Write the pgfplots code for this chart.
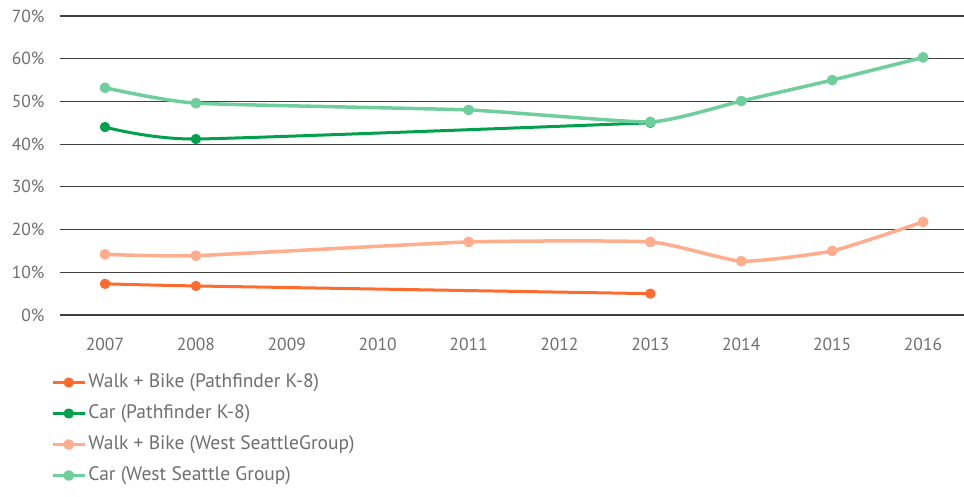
\documentclass[border=0pt]{standalone}
\usepackage{pgfplots}
\pgfplotsset{compat=1.18}
\usepackage{fontspec}
\setmainfont{PT Sans}
\definecolor{wbp}{HTML}{FF6A2E}
\definecolor{carp}{HTML}{00A04C}
\definecolor{wbw}{HTML}{FFAD8C}
\definecolor{carw}{HTML}{6FCF9C}
\definecolor{txt}{HTML}{6E6E6E}
\begin{document}
\begin{tikzpicture}
\path[use as bounding box] (-60pt,-182pt) rectangle (904pt,315pt);
\begin{axis}[
  at={(0pt,0pt)}, anchor=south west,
  scale only axis, width=904pt, height=299pt,
  xmin=2006.505, xmax=2016.45, ymin=0, ymax=70,
  xtick={2007,...,2016},
  ytick={0,10,...,70},
  yticklabel={\pgfmathprintnumber{\tick}\%},
  /pgf/number format/assume math mode=true,
  /pgf/number format/1000 sep={},
  axis line style={draw=none},
  major tick length=0pt,
  ymajorgrids,
  grid style={black!75, line width=1.1pt},
  tick label style={font=\fontsize{17.5}{20}\selectfont, text=txt},
  xticklabel style={yshift=-20pt},
  yticklabel style={xshift=-12pt},
  clip=false,
  legend cell align=left,
  legend style={draw=none, fill=none, at={(axis description cs:-0.0135,-0.19)}, anchor=north west,
    font=\fontsize{19.5}{22}\selectfont, text=txt, row sep=14pt,
    nodes={inner sep=0pt, text height=13pt, text depth=4pt}},
  legend image code/.code={\draw[mark repeat=2,mark phase=2,#1] plot coordinates {(0pt,0pt) (16pt,0pt) (32pt,0pt)};},
  every axis plot/.append style={smooth, tension=0.3, mark=*, line join=round},
]
\addplot[color=wbp, line width=3pt, mark size=3.6pt] coordinates {(2007,7.3) (2008,6.8) (2013,5.0)};
\addlegendentry{\hspace{2pt}Walk + Bike (Pathfinder K-8)}
\addplot[color=carp, line width=3pt, mark size=3.6pt] coordinates {(2007,44.0) (2008,41.2) (2013,45.0)};
\addlegendentry{\hspace{2pt}Car (Pathfinder K-8)}
\addplot[color=wbw, line width=3.5pt, mark size=3.6pt] coordinates {(2007,14.2) (2008,13.9) (2011,17.1) (2013,17.1) (2014,12.6) (2015,15.0) (2016,21.8)};
\addlegendentry{\hspace{2pt}Walk + Bike (West SeattleGroup)}
\addplot[color=carw, line width=3.5pt, mark size=3.6pt] coordinates {(2007,53.2) (2008,49.6) (2011,48.0) (2013,45.2) (2014,50.1) (2015,55.0) (2016,60.3)};
\addlegendentry{\hspace{2pt}Car (West Seattle Group)}
\end{axis}
\end{tikzpicture}
\end{document}
